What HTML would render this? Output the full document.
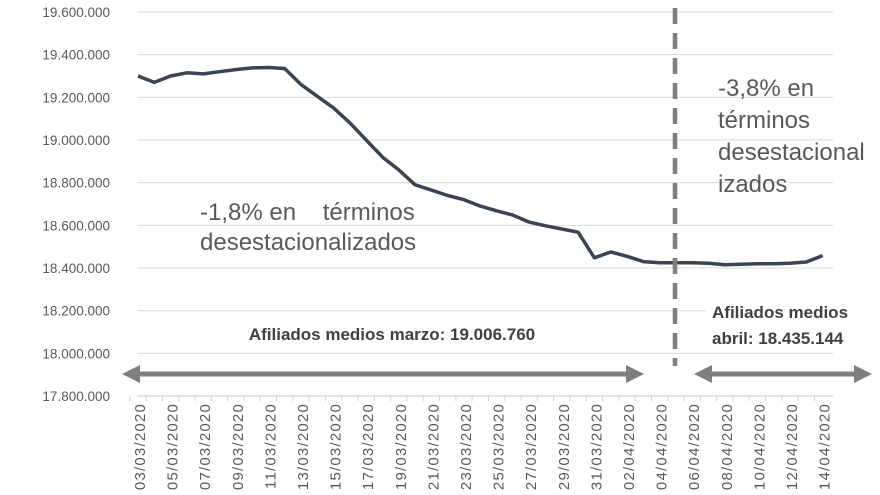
<!DOCTYPE html>
<html><head><meta charset="utf-8"><style>
body{margin:0;background:#fff;}
svg{display:block;font-family:"Liberation Sans",sans-serif;}
</style></head><body>
<svg id="chart" width="880" height="495" viewBox="0 0 880 495">
<g id="grid"></g>
<g id="yaxis"></g>
<g id="xaxis"></g>
<path id="series" fill="none" stroke="#3b4453" stroke-width="3.5" stroke-linejoin="round"/>
<rect x="706" y="296" width="160" height="52" fill="#fff"/>
<line x1="675" y1="8" x2="675" y2="366" stroke="#7f7f7f" stroke-width="4.5" stroke-dasharray="16,9"/>
<g fill="#7f7f7f" stroke="#7f7f7f">
<line x1="136" y1="374" x2="630" y2="374" stroke-width="5"/>
<polygon points="122,374 140,365 140,383" stroke="none"/>
<polygon points="644,374 626,365 626,383" stroke="none"/>
</g>
<g fill="#7f7f7f" stroke="#7f7f7f">
<line x1="708" y1="374" x2="858" y2="374" stroke-width="5"/>
<polygon points="694,374 712,365 712,383" stroke="none"/>
<polygon points="872,374 854,365 854,383" stroke="none"/>
</g>
<g fill="#595959" font-size="24">
<text x="200" y="220" xml:space="preserve">-1,8% en    términos</text>
<text x="200" y="250">desestacionalizados</text>
</g>
<g fill="#595959" font-size="24">
<text x="718" y="96">-3,8% en</text>
<text x="718" y="128">términos</text>
<text x="718" y="160">desestacional</text>
<text x="718" y="192">izados</text>
</g>
<text x="392" y="340" text-anchor="middle" font-size="17" font-weight="bold" fill="#404040">Afiliados medios marzo: 19.006.760</text>
<g font-size="17" font-weight="bold" fill="#404040">
<text x="712" y="318">Afiliados medios</text>
<text x="712" y="344">abril: 18.435.144</text>
</g>
</svg>
<script>
const yTicks=[17800000,18000000,18200000,18400000,18600000,18800000,19000000,19200000,19400000,19600000];
const dates=["03/03/2020","04/03/2020","05/03/2020","06/03/2020","07/03/2020","08/03/2020","09/03/2020","10/03/2020","11/03/2020","12/03/2020","13/03/2020","14/03/2020","15/03/2020","16/03/2020","17/03/2020","18/03/2020","19/03/2020","20/03/2020","21/03/2020","22/03/2020","23/03/2020","24/03/2020","25/03/2020","26/03/2020","27/03/2020","28/03/2020","29/03/2020","30/03/2020","31/03/2020","01/04/2020","02/04/2020","03/04/2020","04/04/2020","05/04/2020","06/04/2020","07/04/2020","08/04/2020","09/04/2020","10/04/2020","11/04/2020","12/04/2020","13/04/2020","14/04/2020"];
const values=[19300000,19270000,19300000,19315000,19310000,19320000,19330000,19338000,19340000,19335000,19260000,19205000,19150000,19080000,19000000,18920000,18860000,18790000,18765000,18740000,18720000,18690000,18668000,18648000,18615000,18598000,18583000,18568000,18448000,18475000,18455000,18430000,18425000,18425000,18425000,18422000,18415000,18418000,18420000,18420000,18422000,18428000,18458000];
const NS="http://www.w3.org/2000/svg";
const X0=138,DX=16.3,XL=137,XR=833;
function x(i){return X0+i*DX;}
function y(v){return 12+(19600000-v)/200000*42.67;}
function fmt(v){return String(v).replace(/\B(?=(\d{3})+(?!\d))/g,".");}
const grid=document.getElementById('grid'),ya=document.getElementById('yaxis'),xa=document.getElementById('xaxis');
yTicks.forEach(v=>{
  const l=document.createElementNS(NS,'line');
  
  
  l.setAttribute('x1',XL);l.setAttribute('x2',XR);l.setAttribute('y1',y(v));l.setAttribute('y2',y(v));
  l.setAttribute('stroke',v===17800000?'#c8c8c8':'#d9d9d9');l.setAttribute('stroke-width','1');
  grid.appendChild(l);
  const t=document.createElementNS(NS,'text');
  
  
  t.setAttribute('x',110);t.setAttribute('y',y(v)+5);t.setAttribute('text-anchor','end');
  t.setAttribute('font-size','13.5');t.setAttribute('fill','#595959');
  t.textContent=fmt(v);ya.appendChild(t);
});
dates.forEach((d,i)=>{
  const tk=document.createElementNS(NS,'line');
  
  
  tk.setAttribute('x1',x(i)-DX/2);tk.setAttribute('x2',x(i)-DX/2);tk.setAttribute('y1',396);tk.setAttribute('y2',401);
  tk.setAttribute('stroke','#d0d0d0');xa.appendChild(tk);
  if(i%2===0){
    const t=document.createElementNS(NS,'text');
    
    
    t.setAttribute('transform','translate('+(x(i)+7)+',403) rotate(-90)');
    t.setAttribute('text-anchor','end');t.setAttribute('font-size','15');t.setAttribute('letter-spacing','1.2');t.setAttribute('fill','#595959');
    t.textContent=d;xa.appendChild(t);
  }
});
document.getElementById('series').setAttribute('d',values.map((v,i)=>(i?'L':'M')+x(i).toFixed(1)+','+y(v).toFixed(1)).join(''));
</script>
</body></html>
